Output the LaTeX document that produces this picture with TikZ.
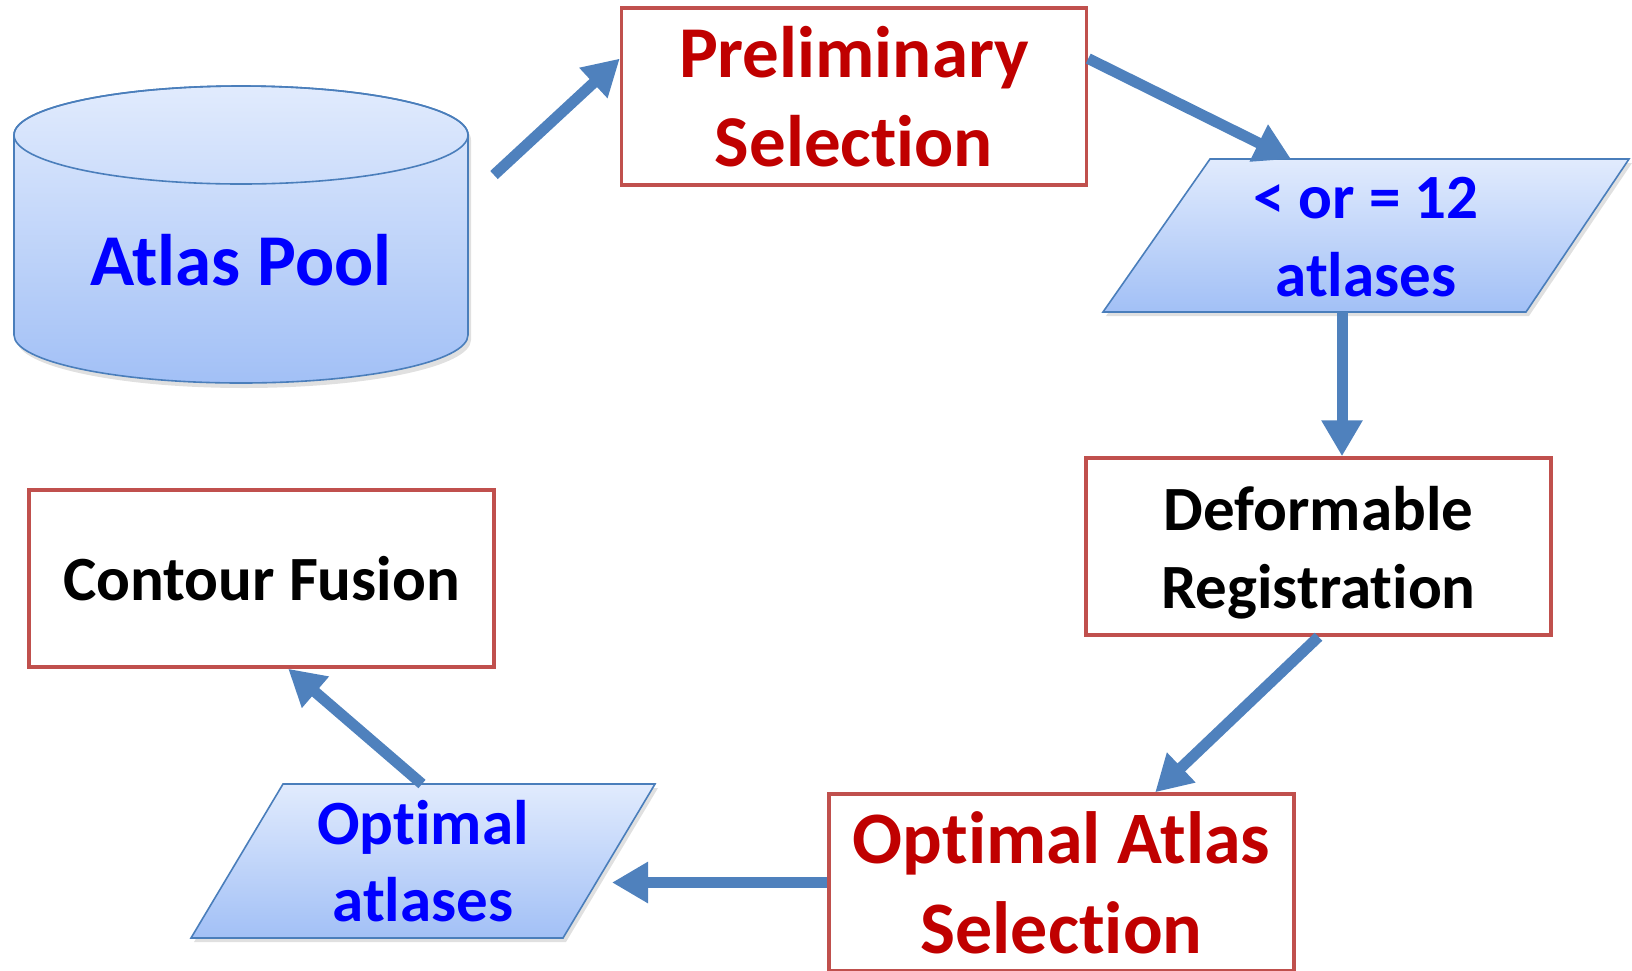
\documentclass[tikz,border=0pt]{standalone}
\usepackage{fontspec}
\setmainfont{Carlito}[Ligatures=NoCommon]
\usetikzlibrary{arrows.meta,calc}
\definecolor{arrowblue}{HTML}{4F81BD}
\definecolor{boxred}{HTML}{C0504D}
\definecolor{textred}{HTML}{C00000}
\definecolor{textblue}{HTML}{0000FF}
\definecolor{shadetop}{HTML}{E1EBFD}
\definecolor{shadebot}{HTML}{A2C0F6}
\definecolor{edgeblue}{HTML}{4A7EBB}
\begin{document}
\begin{tikzpicture}[x=1pt,y=-1pt,
  box/.style={draw=boxred, line width=3.5pt, fill=white, minimum width=465pt, minimum height=177pt, align=center, inner sep=0pt},
  flow/.style={draw=arrowblue, line width=11pt, -{Triangle[length=36pt,width=39pt]}},
  datashape/.style={draw=edgeblue, line width=1.6pt, top color=shadetop, bottom color=shadebot},
  softshadow/.style={fill=black, opacity=0.12},
  redbig/.style={font=\bfseries\fontsize{73}{89}\selectfont, text=textred},
  redbigb/.style={font=\bfseries\fontsize{74}{90}\selectfont, text=textred},
  blacktxt/.style={font=\bfseries\fontsize{63}{78}\selectfont, text=black},
  bluetxt/.style={font=\bfseries\fontsize{63}{78}\selectfont, text=textblue, align=center, inner sep=0pt},
  bluebig/.style={font=\bfseries\fontsize{73}{89}\selectfont, text=textblue, inner sep=0pt}
]
\useasboundingbox (0,0) rectangle (1632,970);

% ---- Atlas Pool cylinder ----
\fill[softshadow] (17,140) -- (17,340) arc[start angle=180,end angle=0,x radius=227,y radius=48] -- (471,140) arc[start angle=0,end angle=-180,x radius=227,y radius=49] -- cycle;
\path[datashape] (14,135) -- (14,335) arc[start angle=180,end angle=0,x radius=227,y radius=48] -- (468,135) arc[start angle=0,end angle=-180,x radius=227,y radius=49] -- cycle;
\draw[edgeblue, line width=1.6pt] (241,135) ellipse[x radius=227, y radius=49];
\node[bluebig] (pool) at (241,260) {Atlas Pool};
\coordinate (poolout) at (494,175);

% ---- boxes ----
\node[box, redbig] (prelim) at (854,96.5) {Preliminary\\Selection};
\node[box, blacktxt] (deform) at (1318.5,546.5) {\rule{0pt}{56pt}Deformable\\Registration};
\node[box, redbigb] (optsel) at (1061.5,882.5) {Optimal Atlas\\Selection};
\node[box, blacktxt] (fusion) at (261.5,578.5) {Contour Fusion};

% ---- parallelogram 1 ----
\fill[softshadow] (1213,163) -- (1632,163) -- (1529,316) -- (1106,316) -- cycle;
\path[datashape] (1210,159) -- (1629,159) -- (1526,312) -- (1103,312) -- cycle;
\node[bluetxt] (twelve) at (1366,237) {< or = 12\\atlases};
\coordinate (p1top) at (1291,159);
\coordinate (p1bot) at (1342,312);

% ---- parallelogram 2 ----
\fill[softshadow] (286,788) -- (658,788) -- (566,942) -- (194,942) -- cycle;
\path[datashape] (283,784) -- (655,784) -- (563,938) -- (191,938) -- cycle;
\node[bluetxt, font=\bfseries\fontsize{63}{77}\selectfont] (optimal) at (423,861) {Optimal\\atlases};
\coordinate (p2top) at (422,784);
\coordinate (p2right) at (612,882.5);

% ---- connectors ----
\draw[flow] (poolout) -- ($(prelim.north west)!0.29!(prelim.south west)$);
\draw[flow] ($(prelim.north east)!0.29!(prelim.south east)$) -- (p1top);
\draw[flow] (p1bot) -- (p1bot |- deform.north);
\draw[flow] (deform.south) -- ($(optsel.north west)!0.70!(optsel.north east)$);
\draw[flow] (optsel.west) -- (p2right);
\draw[flow] (p2top) -- ($(fusion.south west)!0.557!(fusion.south east)$);
\end{tikzpicture}
\end{document}
